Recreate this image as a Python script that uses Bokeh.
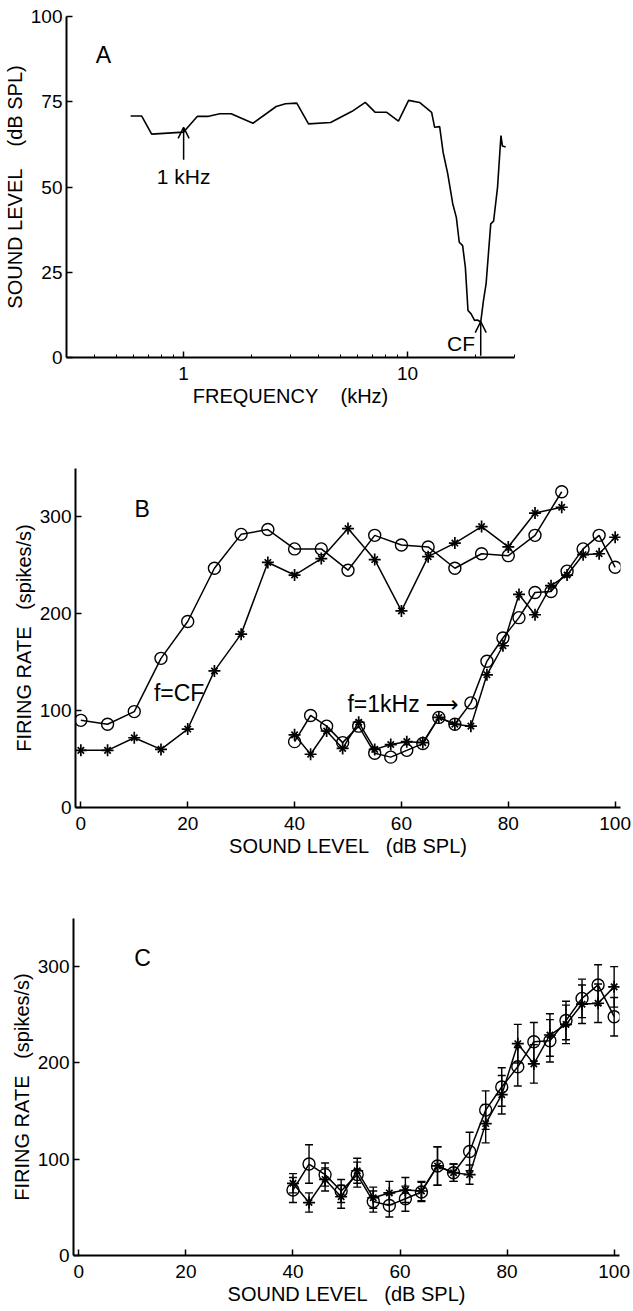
from bokeh.plotting import figure
from bokeh.models import (FixedTicker, PrintfTickFormatter, Arrow, OpenHead,
                          Whisker, TeeHead, ColumnDataSource, Range1d)
from bokeh.embed import file_html
from bokeh.resources import INLINE
from bokeh.core.properties import value

FONT = "Liberation Sans"

# ---------------- Panel A: tuning curve ----------------
freq_a = [0.58, 0.65, 0.72, 1.0, 1.15, 1.28, 1.45, 1.63, 2.04, 2.59, 2.85, 3.2,
          3.61, 4.53, 5.65, 6.47, 7.17, 8.07, 9.1, 10.1, 11.3, 12.8, 13.2, 13.9,
          14.4, 15.1, 15.9, 16.5, 17.0, 17.6, 18.1, 18.6, 19.2, 19.9, 20.5, 21.2,
          21.8, 22.4, 23.5, 24.2, 25.2, 26.1, 26.5, 27.4]
level_a = [70.8, 70.8, 65.5, 66.1, 70.7, 70.7, 71.5, 71.5, 68.7, 73.6, 74.4, 74.6,
           68.5, 68.9, 72.2, 74.8, 71.9, 71.9, 69.3, 75.4, 74.8, 71.9, 67.5, 67.7,
           60.2, 53.9, 45.1, 41.1, 33.8, 32.8, 26.5, 13.8, 12.8, 10.9, 11.0, 10.4,
           16.7, 21.6, 39.2, 40.0, 49.9, 65.1, 62.0, 61.7]
a_major_ticks = [1, 10]
a_minor_ticks = [0.4, 0.5, 0.6, 0.7, 0.8, 0.9, 2, 3, 4, 5, 6, 7, 8, 9, 20, 30]
a_y_ticks = [0, 25, 50, 75, 100]

# annotations A
ann1_x = 1.0
ann1_y = [58, 67.5]
cf_x = 21.2
cf_y = [0.5, 10.5]

# ---------------- Panel B / C: rate-level functions ----------------
lvl_cf = [0, 5, 10, 15, 20, 25, 30, 35, 40, 45, 50, 55, 60, 65, 70, 75, 80, 85, 90]
cf_circle = [90, 86, 99, 154, 192, 247, 282, 287, 267, 267, 245, 281, 271, 269,
             247, 262, 260, 281, 326]
cf_star = [59, 59, 72, 60, 81, 141, 179, 253, 240, 257, 288, 256, 203, 259, 273,
           290, 269, 304, 310]

lvl_1k = [40, 43, 46, 49, 52, 55, 58, 61, 64, 67, 70, 73, 76, 79, 82, 85, 88,
          91, 94, 97, 100]
k_circle = [68, 95, 84, 67, 84, 56, 52, 59, 66, 93, 86, 108, 151, 175, 196, 222,
            223, 244, 267, 281, 248]
k_star = [75, 55, 79, 61, 88, 60, 65, 68, 67, 93, 86, 84, 137, 167, 220, 199,
          229, 240, 261, 262, 279]
err_circle = [13, 20, 12, 12, 13, 11, 12, 13, 10, 20, 9, 20, 20, 20, 20, 20, 22,
              20, 20, 21, 20]
err_star = [10, 10, 12, 12, 13, 11, 12, 13, 10, 20, 9, 10, 20, 20, 20, 20, 22,
            20, 20, 20, 21]
bc_x_ticks = [0, 20, 40, 60, 80, 100]
bc_y_ticks = [0, 100, 200, 300]

W = 633


def style(p):
    p.outline_line_color = None
    p.xgrid.visible = False
    p.ygrid.visible = False
    p.background_fill_color = "white"
    p.border_fill_color = "white"
    for ax in (p.xaxis[0], p.yaxis[0]):
        ax.axis_line_width = 2
        ax.axis_line_color = "black"
        ax.major_tick_line_width = 1.5
        ax.major_tick_in = 6
        ax.major_tick_out = 0
        ax.minor_tick_out = 0
        ax.minor_tick_in = 0
        ax.major_label_text_font = FONT
        ax.major_label_text_font_size = "19px"
        ax.major_label_text_color = "black"
        ax.axis_label_text_font = FONT
        ax.axis_label_text_font_size = "20px"
        ax.axis_label_text_font_style = "normal"
        ax.axis_label_text_color = "black"
    p.xaxis.major_label_standoff = 9
    p.yaxis.major_label_standoff = 4
    p.xaxis.axis_label_standoff = 2
    p.yaxis.axis_label_standoff = 2


def label(p, x, y, txt, align="center", size="23px", font=FONT):
    p.text(x=[x], y=[y], text=[txt], text_font=value(font), text_font_size=size,
           text_align=align, text_baseline="middle", text_color="black")


# ---- Panel A ----
pa = figure(width=W, height=410, x_axis_type="log",
            x_range=Range1d(0.3, 30), y_range=Range1d(0, 100),
            output_backend="svg", toolbar_location=None,
            min_border_left=62, min_border_right=W - 514,
            min_border_top=16, min_border_bottom=53)
style(pa)
pa.xaxis.ticker = FixedTicker(ticks=a_major_ticks, minor_ticks=a_minor_ticks)
pa.xaxis.formatter = PrintfTickFormatter(format="%d")
pa.xaxis.minor_tick_in = 3
pa.xaxis.minor_tick_line_width = 1
pa.yaxis.ticker = FixedTicker(ticks=a_y_ticks)
pa.xaxis.axis_label = "FREQUENCY\u00a0\u00a0\u00a0\u00a0(kHz)"
pa.yaxis.axis_label = "SOUND LEVEL\u00a0\u00a0\u00a0\u00a0(dB SPL)"
pa.line(freq_a, level_a, line_color="black", line_width=1.6)
pa.add_layout(Arrow(end=OpenHead(size=11, line_width=1.5, line_color="black"),
                    x_start=ann1_x, y_start=ann1_y[0], x_end=ann1_x, y_end=ann1_y[1],
                    line_width=1.5, line_color="black"))
pa.add_layout(Arrow(end=OpenHead(size=11, line_width=1.5, line_color="black"),
                    x_start=cf_x, y_start=cf_y[0], x_end=cf_x, y_end=cf_y[1],
                    line_width=1.5, line_color="black"))
label(pa, 1.0, 53, "1 kHz", size="21px")
label(pa, 20.0, 4.0, "CF", align="right", size="21px")
label(pa, 0.438, 88.6, "A", size="23px")


def rate_fig(height, top, bottom, left, right):
    p = figure(width=W, height=height, x_range=Range1d(-1, 101),
               y_range=Range1d(0, 350), output_backend="svg",
               toolbar_location=None, min_border_left=left,
               min_border_right=right, min_border_top=top,
               min_border_bottom=bottom)
    style(p)
    p.xaxis.ticker = FixedTicker(ticks=bc_x_ticks)
    p.yaxis.ticker = FixedTicker(ticks=bc_y_ticks)
    p.xaxis.axis_label = "SOUND LEVEL\u00a0\u00a0\u00a0(dB SPL)"
    p.yaxis.axis_label = "FIRING RATE\u00a0\u00a0\u00a0(spikes/s)"
    return p


def draw_series(p, x, yc, ys):
    p.line(x, yc, line_color="black", line_width=1.5)
    p.scatter(x, yc, marker="circle", size=12, fill_color=None,
              line_color="black", line_width=1.4)
    p.line(x, ys, line_color="black", line_width=1.5)
    p.scatter(x, ys, marker="cross", size=12, line_color="black", line_width=1.7)
    p.scatter(x, ys, marker="x", size=9, line_color="black", line_width=1.7)


# ---- Panel B ----
pb = rate_fig(452, 58, 55, 75, 13)
draw_series(pb, lvl_cf, cf_circle, cf_star)
draw_series(pb, lvl_1k, k_circle, k_star)
label(pb, 18.4, 118.7, "f=CF")
label(pb, 49.9, 107, "f=1kHz", align="left")
label(pb, 64.5, 107, "\u27f6", align="left", font="DejaVu Sans")
label(pb, 11.5, 308.7, "B")

# ---- Panel C ----
pc = rate_fig(449, 56, 56, 73, 14)
src_c = ColumnDataSource(dict(
    x=lvl_1k,
    cl=[v - e for v, e in zip(k_circle, err_circle)],
    cu=[v + e for v, e in zip(k_circle, err_circle)],
    sl=[v - e for v, e in zip(k_star, err_star)],
    su=[v + e for v, e in zip(k_star, err_star)],
))
for lo, up in (("cl", "cu"), ("sl", "su")):
    pc.add_layout(Whisker(source=src_c, base="x", lower=lo, upper=up,
                          line_color="black", line_width=1.4,
                          upper_head=TeeHead(size=8, line_width=1.4, line_color="black"),
                          lower_head=TeeHead(size=8, line_width=1.4, line_color="black")))
draw_series(pc, lvl_1k, k_circle, k_star)
label(pc, 11.9, 309, "C")

# three independent roots, so that their plot frames are not aligned
open("out.html", "w").write(file_html([pa, pb, pc], INLINE))
